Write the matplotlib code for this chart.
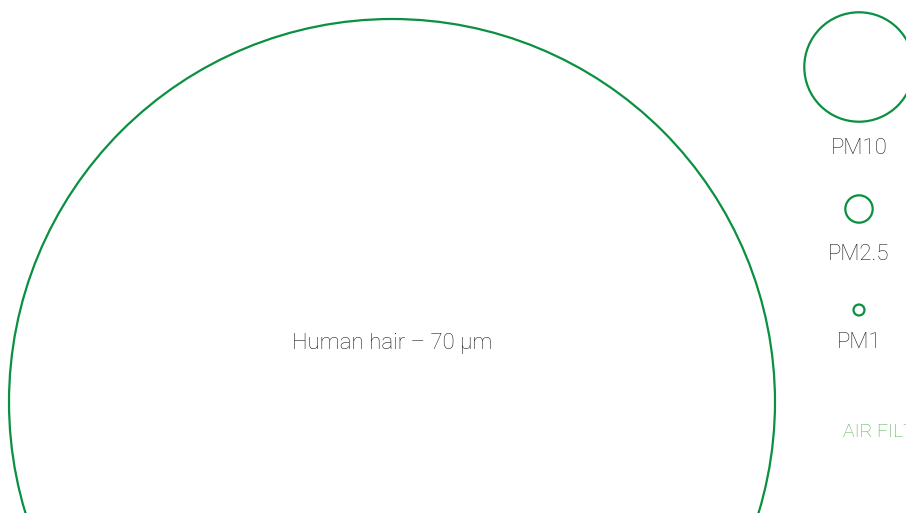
import matplotlib.pyplot as plt
from matplotlib.patches import Circle

# particle sizes in micrometres
labels = ['Human hair – 70 µm', 'PM10', 'PM2.5', 'PM1']
sizes_um = [70, 10, 2.5, 1]
extra_label = 'AIR FILTER'

green = '#0a9040'
text_col = '#222222'
px_per_um = 383 / 70

fig = plt.figure(figsize=(9.06, 5.13), dpi=100)
ax = fig.add_axes([0, 0, 1, 1])
ax.set_xlim(0, 906)
ax.set_ylim(513, 0)
ax.set_aspect('equal')
ax.axis('off')

# centres of circles and label positions (pixels)
centres = [(392, 402), (859, 67), (859, 209), (859, 310)]
label_pos = [(392, 343), (859, 149), (859, 255), (859, 342)]

for (cx, cy), s in zip(centres, sizes_um):
    ax.add_patch(Circle((cx, cy), s * px_per_um, fill=False, ec=green, lw=1.6))

for (x, y), lab in zip(label_pos, labels):
    ax.text(x, y, lab, ha='center', va='center', fontsize=16,
            family='Roboto', fontweight='light', color=text_col)

ax.text(843, 432, extra_label, ha='left', va='center', fontsize=14,
        family='Roboto', fontweight='light', color='#4fae4f')

fig.savefig('out.png', dpi=100)
